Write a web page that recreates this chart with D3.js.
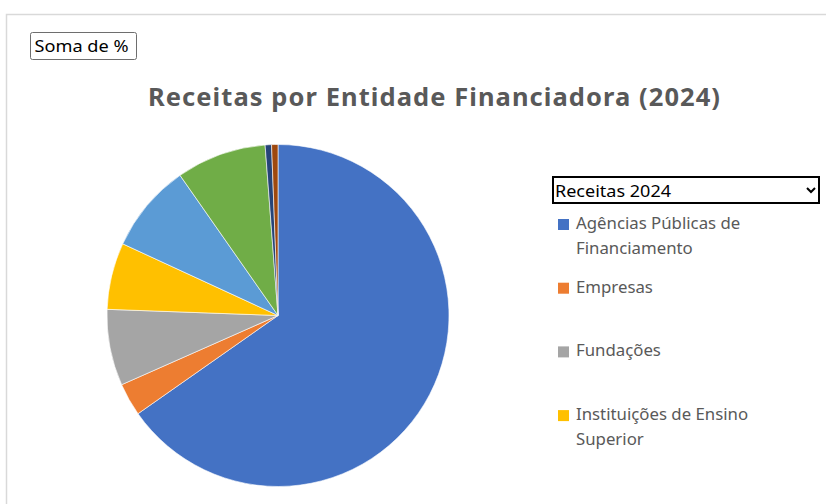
<!DOCTYPE html>
<html>
<head>
<meta charset="utf-8">
<script src="https://cdn.jsdelivr.net/npm/d3@7.9.0/dist/d3.min.js"></script>
<style>
  html, body { margin: 0; padding: 0; background: #fff; }
  svg { display: block; font-family: "Noto Sans", "Open Sans", sans-serif; }
</style>
</head>
<body>
<svg id="chart" width="826" height="504"></svg>
<script>
// Pivot chart data: share (%) of 2024 revenue by funding entity
const categories = [
  "Agências Públicas de Financiamento",
  "Empresas",
  "Fundações",
  "Instituições de Ensino Superior",
  "Organizações Internacionais",
  "Programas Europeus",
  "Outras Entidades Públicas",
  "Outras Entidades Privadas"
];
const values = [65.2, 3.1, 7.2, 6.3, 8.4, 8.5, 0.6, 0.6];
const colorList = ["#4472C4", "#ED7D31", "#A5A5A5", "#FFC000", "#5B9BD5", "#70AD47", "#264478", "#9E480E"];
const legendVisible = 4; // the Excel legend box only shows the first four entries

const data = categories.map((c, i) => ({ label: c, value: values[i] }));

let svg = d3.select('#chart');

// chart area frame (top and left edges visible)
svg.append('path')
  .attr('d', 'M6.5,504 V14.5 H826')
  .attr('fill', 'none')
  .attr('stroke', '#d9d9d9')
  .attr('stroke-width', 1.5);

// "Soma de %" field button
let btn = svg.append('g').attr('transform', 'translate(30.5,32.5)');
btn.append('rect')
  .attr('width', 106).attr('height', 27).attr('rx', 2)
  .attr('fill', '#fff').attr('stroke', '#6e6e6e');
btn.append('text')
  .attr('x', 4).attr('y', 19.5)
  .attr('font-size', 17).attr('fill', '#000')
  .attr('textLength', 94).attr('lengthAdjust', 'spacingAndGlyphs')
  .text('Soma de %');

// title
svg.append('text')
  .attr('x', 434).attr('y', 106)
  .attr('text-anchor', 'middle')
  .attr('font-size', 25.5).attr('font-weight', 'bold')
  .attr('fill', '#595959')
  .attr('textLength', 572).attr('lengthAdjust', 'spacing')
  .text('Receitas por Entidade Financiadora (2024)');

// pie
let radius = 171;
let pieGenerator = d3.pie().value(d => d.value).sort(null);
let arcGenerator = d3.arc().innerRadius(0).outerRadius(radius);
let colors = d3.scaleOrdinal().domain(categories).range(colorList);

let pieG = svg.append('g').attr('transform', 'translate(278,315.5)');
pieG.selectAll('path')
  .data(pieGenerator(data))
  .enter()
  .append('path')
  .attr('d', arcGenerator)
  .attr('fill', d => colors(d.data.label))
  .attr('stroke', '#fff')
  .attr('stroke-width', 0.6);

// series dropdown
let dd = svg.append('g').attr('transform', 'translate(553,177)');
dd.append('rect')
  .attr('width', 266).attr('height', 26)
  .attr('fill', '#fff').attr('stroke', '#000').attr('stroke-width', 2);
dd.append('text')
  .attr('x', 2).attr('y', 19.5)
  .attr('font-size', 17).attr('fill', '#000')
  .attr('textLength', 116).attr('lengthAdjust', 'spacingAndGlyphs')
  .text('Receitas 2024');
dd.append('path')
  .attr('d', 'M254,11 l4,4 l4,-4')
  .attr('fill', 'none').attr('stroke', '#000').attr('stroke-width', 2);

// legend (wrapped labels, like Excel)
const legendLines = [
  ["Agências Públicas de", "Financiamento"],
  ["Empresas"],
  ["Fundações"],
  ["Instituições de Ensino", "Superior"]
];
let legend = svg.append('g').attr('transform', 'translate(558,0)');
let items = legend.selectAll('g')
  .data(data.slice(0, legendVisible))
  .enter()
  .append('g')
  .attr('transform', (d, i) => `translate(0,${229 + i * 63.7})`);

items.append('rect')
  .attr('x', 0).attr('y', -10)
  .attr('width', 11).attr('height', 11)
  .attr('fill', d => colors(d.label));

items.append('text')
  .attr('font-size', 16.8).attr('fill', '#595959')
  .selectAll('tspan')
  .data((d, i) => legendLines[i])
  .enter()
  .append('tspan')
  .attr('x', 18)
  .attr('dy', (d, j) => j === 0 ? 0 : 24.5)
  .text(d => d);
</script>
</body>
</html>
